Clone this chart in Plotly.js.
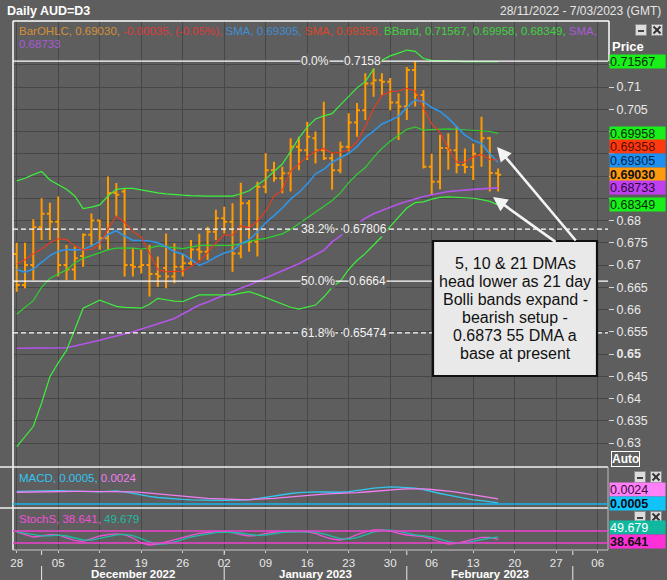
<!DOCTYPE html>
<html><head><meta charset="utf-8">
<script src="https://cdn.plot.ly/plotly-3.0.1.min.js"></script>
<style>html,body{margin:0;padding:0;background:#5e5e5e;}</style>
</head><body>
<div id="chart" style="width:667px;height:580px"></div>
<script>
// ---------------- DATA ----------------
const dates = [
'2022-11-28','2022-11-29','2022-11-30','2022-12-01','2022-12-02',
'2022-12-05','2022-12-06','2022-12-07','2022-12-08','2022-12-09',
'2022-12-12','2022-12-13','2022-12-14','2022-12-15','2022-12-16',
'2022-12-19','2022-12-20','2022-12-21','2022-12-22','2022-12-23',
'2022-12-26','2022-12-27','2022-12-28','2022-12-29','2022-12-30',
'2023-01-02','2023-01-03','2023-01-04','2023-01-05','2023-01-06',
'2023-01-09','2023-01-10','2023-01-11','2023-01-12','2023-01-13',
'2023-01-16','2023-01-17','2023-01-18','2023-01-19','2023-01-20',
'2023-01-23','2023-01-24','2023-01-25','2023-01-26','2023-01-27',
'2023-01-30','2023-01-31','2023-02-01','2023-02-02','2023-02-03',
'2023-02-06','2023-02-07','2023-02-08','2023-02-09','2023-02-10',
'2023-02-13','2023-02-14','2023-02-15','2023-02-16'];
const open = [0.6725,0.6655,0.6700,0.6785,0.6815, 0.6797,0.6700,0.6690,0.6720,0.6768,
0.6800,0.6760,0.6862,0.6865,0.6700, 0.6696,0.6700,0.6680,0.6693,0.6674,
0.6696,0.6704,0.6735,0.6730,0.6775, 0.6805,0.6797,0.6726,0.6839,0.6752,
0.6876,0.6913,0.6895,0.6906,0.6966, 0.6958,0.6985,0.6958,0.6940,0.6913,
0.6966,0.7020,0.7048,0.7108,0.7115, 0.7112,0.7065,0.7056,0.7138,0.7082,
0.6921,0.6887,0.6963,0.6958,0.6925, 0.6920,0.6947,0.6985,0.6906];
const high = [0.6750,0.6750,0.6803,0.6850,0.6840, 0.6854,0.6745,0.6741,0.6771,0.6816,
0.6801,0.6899,0.6884,0.6872,0.6738, 0.6734,0.6745,0.6719,0.6771,0.6749,
0.6725,0.6756,0.6770,0.6786,0.6824, 0.6831,0.6839,0.6885,0.6846,0.6887,
0.6951,0.6932,0.6921,0.6985,0.6988, 0.7022,0.7000,0.7067,0.6951,0.6977,
0.7041,0.7064,0.7131,0.7146,0.7131, 0.7120,0.7086,0.7145,0.7158,0.7093,
0.6950,0.6992,0.6996,0.7011,0.6962, 0.6973,0.7033,0.6988,0.6917];
const low = [0.6640,0.6648,0.6666,0.6756,0.6756, 0.6674,0.6666,0.6666,0.6696,0.6741,
0.6734,0.6734,0.6809,0.6674,0.6674, 0.6681,0.6629,0.6651,0.6648,0.6659,
0.6674,0.6700,0.6711,0.6711,0.6756, 0.6771,0.6685,0.6715,0.6730,0.6719,
0.6861,0.6887,0.6861,0.6865,0.6913, 0.6936,0.6928,0.6936,0.6869,0.6906,
0.6955,0.6988,0.7026,0.7078,0.7082, 0.7048,0.6981,0.7026,0.7056,0.6917,
0.6857,0.6870,0.6914,0.6906,0.6906, 0.6891,0.6921,0.6865,0.6865];
const close = [0.6655,0.6700,0.6785,0.6815,0.6797, 0.6700,0.6690,0.6715,0.6768,0.6800,
0.6760,0.6862,0.6858,0.6700,0.6696, 0.6700,0.6680,0.6675,0.6674,0.6696,
0.6704,0.6735,0.6730,0.6775,0.6805, 0.6797,0.6726,0.6839,0.6752,0.6876,
0.6913,0.6895,0.6906,0.6966,0.6958, 0.6988,0.6958,0.6940,0.6913,0.6966,
0.7020,0.7048,0.7108,0.7115,0.7112, 0.7065,0.7056,0.7138,0.7082,0.6921,
0.6887,0.6963,0.6958,0.6925,0.6920, 0.6950,0.6985,0.69065,0.6903];
const sma5 = [0.6702,0.6712,0.6725,0.6736,0.6750,0.6759,0.6757,0.6743,0.6734,0.6735,
0.6747,0.6781,0.6810,0.6796,0.6775,0.6763,0.6727,0.6690,0.6685,0.6685,
0.6686,0.6697,0.6708,0.6728,0.6750,0.6768,0.6767,0.6788,0.6784,0.6798,
0.6821,0.6855,0.6868,0.6911,0.6928,0.6943,0.6955,0.6962,0.6951,0.6953,
0.6959,0.6977,0.7011,0.7051,0.7081,0.7090,0.7091,0.7097,0.7091,0.7052,
0.7017,0.6998,0.6962,0.6931,0.6931,0.6943,0.6948,0.6937,0.69358];
const sma10 = [0.6690,0.6684,0.6691,0.6706,0.6721,0.6731,0.6735,0.6734,0.6735,0.6743,
0.6753,0.6769,0.6777,0.6765,0.6755,0.6755,0.6754,0.6750,0.6741,0.6730,
0.6725,0.6712,0.6699,0.6707,0.6718,0.6727,0.6732,0.6748,0.6756,0.6774,
0.6795,0.6811,0.6828,0.6848,0.6863,0.6882,0.6905,0.6915,0.6931,0.6941,
0.6951,0.6966,0.6987,0.7001,0.7017,0.7025,0.7034,0.7054,0.7071,0.7067,
0.7054,0.7045,0.7030,0.7011,0.6992,0.6980,0.6973,0.6950,0.69305];
const bbUpper = [0.6889,0.6895,0.6903,0.6910,0.6891,0.6880,0.6870,0.6855,0.6827,0.6830,
0.6835,0.6855,0.6870,0.6872,0.6872,0.6869,0.6865,0.6862,0.6860,0.6858,
0.6857,0.6856,0.6855,0.6855,0.6855,0.6855,0.6855,0.6860,0.6867,0.6880,
0.6893,0.6910,0.6927,0.6955,0.6985,0.7010,0.7028,0.7035,0.7040,0.7060,
0.7080,0.7098,0.7112,0.7140,0.7160,0.7170,0.7176,0.7183,0.7180,0.7164,
0.7160,0.7159,0.7159,0.7158,0.7157,0.7157,0.7157,0.7158,0.71567];
const bbMid = [0.6590,0.6605,0.6620,0.6650,0.6670,0.6680,0.6689,0.6705,0.6715,0.6721,
0.6728,0.6734,0.6738,0.6738,0.6738,0.6736,0.6738,0.6743,0.6741,0.6738,
0.6737,0.6740,0.6744,0.6744,0.6744,0.6744,0.6744,0.6748,0.6753,0.6757,
0.6760,0.6765,0.6770,0.6780,0.6793,0.6807,0.6819,0.6831,0.6845,0.6862,
0.6885,0.6904,0.6919,0.6942,0.6962,0.6978,0.6992,0.7005,0.7010,0.7003,
0.7004,0.7005,0.7006,0.7005,0.7004,0.7003,0.7002,0.7000,0.69958];
const bbLower = [0.6292,0.6315,0.6337,0.6390,0.6449,0.6480,0.6508,0.6555,0.6603,0.6612,
0.6621,0.6614,0.6607,0.6605,0.6604,0.6603,0.6612,0.6625,0.6622,0.6619,
0.6618,0.6625,0.6633,0.6633,0.6633,0.6633,0.6633,0.6637,0.6640,0.6634,
0.6627,0.6620,0.6612,0.6605,0.6601,0.6605,0.6610,0.6628,0.6650,0.6664,
0.6690,0.6710,0.6726,0.6745,0.6764,0.6787,0.6808,0.6828,0.6840,0.6842,
0.6848,0.6852,0.6853,0.6852,0.6851,0.6850,0.6847,0.6843,0.68349];
const sma55 = [0.6513,0.6513,0.6513,0.6513,0.6513,0.6513,0.6514,0.6518,0.6522,0.6527,
0.6531,0.6536,0.6540,0.6545,0.6550,0.6556,0.6561,0.6567,0.6573,0.6580,
0.6590,0.6600,0.6610,0.6617,0.6625,0.6632,0.6640,0.6648,0.6655,0.6663,
0.6670,0.6678,0.6686,0.6694,0.6703,0.6713,0.6723,0.6733,0.6752,0.6765,
0.6778,0.6792,0.6805,0.6815,0.6823,0.6830,0.6837,0.6843,0.6849,0.6854,
0.6858,0.6862,0.6865,0.6867,0.6869,0.6870,0.6871,0.6872,0.68733];
const macd = [0.0060,0.0061,0.0062,0.0064,0.0065,0.0064,0.0062,0.0060,0.0059,0.0059,
0.0058,0.0060,0.0062,0.0058,0.0050,0.0043,0.0036,0.0031,0.0027,0.0024,
0.0022,0.0020,0.0018,0.0017,0.0017,0.0017,0.0016,0.0018,0.0020,0.0026,
0.0034,0.0040,0.0044,0.0050,0.0054,0.0057,0.0058,0.0057,0.0055,0.0056,
0.0059,0.0063,0.0070,0.0076,0.0080,0.0081,0.0080,0.0079,0.0076,0.0068,
0.0058,0.0050,0.0042,0.0034,0.0027,0.0020,0.0016,0.0010,0.0005];
const macdSignal = [0.0056,0.0057,0.0058,0.0058,0.0059,0.0060,0.0060,0.0060,0.0060,0.0060,
0.0059,0.0059,0.0060,0.0059,0.0058,0.0055,0.0051,0.0047,0.0043,0.0039,
0.0036,0.0033,0.0030,0.0027,0.0025,0.0024,0.0022,0.0021,0.0021,0.0022,
0.0024,0.0027,0.0030,0.0034,0.0038,0.0042,0.0045,0.0047,0.0049,0.0050,
0.0052,0.0054,0.0057,0.0061,0.0065,0.0068,0.0070,0.0072,0.0073,0.0072,
0.0069,0.0066,0.0061,0.0056,0.0050,0.0045,0.0039,0.0032,0.0024];
const stochK = [76,62,50,55,62,60,45,32,28,40,55,62,66,62,45,20,10,14,25,38,
50,58,68,72,76,76,72,62,55,58,68,74,76,76,78,76,68,52,40,35,
45,62,76,86,86,80,68,60,56,52,40,25,15,18,28,38,48,48,38.641];
const stochD = [76,70,62,56,56,59,55,45,35,34,42,52,61,63,57,42,25,15,16,25,
38,50,58,66,72,75,74,70,63,58,60,67,73,75,77,77,74,66,53,42,
40,47,61,75,83,84,78,69,61,56,50,39,27,19,20,28,38,45,49.679];
const stochLevels = [80, 20];
const fibPct = ['0.0%','38.2%','50.0%','61.8%'];
const fibVal = [0.7158, 0.67806, 0.6664, 0.65474];
const fibText = ['0.7158','0.67806','0.6664','0.65474'];
const tickDates = ['2022-11-28','2022-12-05','2022-12-12','2022-12-19','2022-12-26','2023-01-02',
'2023-01-09','2023-01-16','2023-01-23','2023-01-30','2023-02-06','2023-02-13','2023-02-20','2023-02-27','2023-03-06'];
const tickLabels = ['28','05','12','19','26','02','09','16','23','30','06','13','20','27','06'];
const monthStarts = ['2022-12-01','2023-01-02','2023-02-01','2023-03-01'];
const monthLabels = ['December 2022','January 2023','February 2023'];
const yTickVals = [0.63,0.635,0.64,0.645,0.65,0.655,0.66,0.665,0.67,0.675,0.68,0.685,0.69,0.695,0.70,0.705,0.71,0.715];
// labels at 0.685-0.70 and 0.715 sit under the value boxes in the reference, so they stay blank
const yTickText = ['0.63','0.635','0.64','0.645','<b>0.65</b>','0.655','0.66','0.665','0.67','0.675','0.68','','','','','0.705','0.71',''];
const noteLines = ['5, 10 & 21 DMAs','head lower as 21 day','Bolli bands expand -','bearish setup -','0.6873 55 DMA a','base at present'];

// ---------------- HELPERS ----------------
function tdIndex(s){
  const d0 = Date.UTC(2022,10,28);
  const d = Date.parse(s + 'T00:00:00Z');
  const days = Math.round((d - d0)/864e5);
  const w = Math.floor(days/7), r = days - w*7;
  return w*5 + Math.min(r,5);
}
const xi = dates.map(tdIndex);
const L=13, R=608, T=21, B=550;
const PX = p => (p-L)/(R-L);
const PY = p => (B-p)/(B-T);
const mainBot = PY(467), macdBot = PY(508);
const FONT = 'Liberation Sans, Arial, sans-serif';
const last = close.length-1;
const f5 = v => v.toFixed(5);

// ---------------- TRACES ----------------
const traces = [
  {type:'ohlc', x:xi, open:open, high:high, low:low, close:close, xaxis:'x', yaxis:'y',
   increasing:{line:{color:'#ff9a00', width:2}}, decreasing:{line:{color:'#ff9a00', width:2}},
   tickwidth:0.36, hoverinfo:'skip'},
  {type:'scatter', mode:'lines', x:xi, y:sma55, line:{color:'#b455ea', width:1.6}, yaxis:'y'},
  {type:'scatter', mode:'lines', x:xi, y:bbUpper, line:{color:'#3cf03c', width:1.2}, yaxis:'y'},
  {type:'scatter', mode:'lines', x:xi, y:bbMid, line:{color:'#2fd02f', width:1.2}, yaxis:'y'},
  {type:'scatter', mode:'lines', x:xi, y:bbLower, line:{color:'#3cf03c', width:1.2}, yaxis:'y'},
  {type:'scatter', mode:'lines', x:xi, y:sma10, line:{color:'#2f95e8', width:1.6}, yaxis:'y'},
  {type:'scatter', mode:'lines', x:xi, y:sma5, line:{color:'#f03a1a', width:1.1}, yaxis:'y'},
  {type:'scatter', mode:'lines', x:xi, y:macd, line:{color:'#35c4f0', width:1.3}, yaxis:'y2'},
  {type:'scatter', mode:'lines', x:xi, y:macdSignal, line:{color:'#f07ef0', width:1.3}, yaxis:'y2'},
  {type:'scatter', mode:'lines', x:xi, y:stochK, line:{color:'#f050d8', width:1.3}, yaxis:'y3'},
  {type:'scatter', mode:'lines', x:xi, y:stochD, line:{color:'#20bba5', width:1.3}, yaxis:'y3'}
];

// ---------------- SHAPES ----------------
const shapes = [];
shapes.push({type:'line', xref:'paper', yref:'paper', x0:0, x1:PX(609), y0:1, y1:1, line:{color:'#ffffff', width:1.5}});
shapes.push({type:'line', xref:'paper', yref:'paper', x0:0, x1:0, y0:0, y1:1, line:{color:'#ffffff', width:1.5}});
shapes.push({type:'line', xref:'paper', yref:'y', x0:PX(609), x1:PX(609), y0:fibVal[0], y1:0.72483, line:{color:'#ffffff', width:1.5}});
shapes.push({type:'line', xref:'paper', yref:'paper', x0:PX(0), x1:1, y0:mainBot, y1:mainBot, line:{color:'#f0f0f0', width:1.5}});
shapes.push({type:'line', xref:'paper', yref:'paper', x0:PX(0), x1:1, y0:macdBot, y1:macdBot, line:{color:'#f0f0f0', width:1.5}});
shapes.push({type:'line', xref:'paper', yref:'paper', x0:0, x1:1, y0:0, y1:0, line:{color:'#c8c8c8', width:1}});
shapes.push({type:'line', xref:'paper', yref:'paper', x0:1, x1:1, y0:0, y1:mainBot, line:{color:'#bdbdbd', width:1}});
fibVal.forEach((v,i)=>{
  shapes.push({type:'line', layer:'above', xref:'paper', yref:'y', x0:0, x1:1, y0:v, y1:v,
    line:{color:'#ffffff', width:1.3, dash: (i%2===1) ? '5px,3px' : 'solid'}});
});
shapes.push({type:'line', xref:'paper', yref:'y2', x0:0, x1:1, y0:0, y1:0, line:{color:'#10b8f0', width:1.5}});
stochLevels.forEach(v=>shapes.push({type:'line', xref:'paper', yref:'y3', x0:0, x1:1, y0:v, y1:v, line:{color:'#f040d0', width:1.5}}));
monthStarts.forEach(d=>{
  const xv = tdIndex(d);
  shapes.push({type:'line', xref:'x', yref:'paper', x0:xv, x1:xv, y0:PY(566), y1:PY(581), line:{color:'#e8e8e8', width:1}});
  shapes.push({type:'line', xref:'x', yref:'paper', x0:xv, x1:xv, y0:PY(551), y1:PY(555), line:{color:'#e8e8e8', width:1}});
});
shapes.push({type:'rect', layer:'above', xref:'paper', yref:'paper', x0:PX(433), x1:PX(597), y0:PY(376), y1:PY(241),
  fillcolor:'#e9e9e9', line:{color:'#111111', width:2.2}});
function icons(cx, cy){
  const s=5.5;
  shapes.push({type:'rect', xref:'paper', yref:'paper', x0:PX(cx-s), x1:PX(cx+s), y0:PY(cy+s), y1:PY(cy-s), fillcolor:'#dcdcdc', line:{color:'#8a8a8a', width:1}});
  shapes.push({type:'line', xref:'paper', yref:'paper', x0:PX(cx-3), x1:PX(cx+3), y0:PY(cy+1), y1:PY(cy+1), line:{color:'#444', width:2}});
  const c = cx+16;
  shapes.push({type:'rect', xref:'paper', yref:'paper', x0:PX(c-s), x1:PX(c+s), y0:PY(cy+s), y1:PY(cy-s), fillcolor:'#dcdcdc', line:{color:'#8a8a8a', width:1}});
  shapes.push({type:'line', xref:'paper', yref:'paper', x0:PX(c-3.5), x1:PX(c+3.5), y0:PY(cy-3.5), y1:PY(cy+3.5), line:{color:'#333', width:2}});
  shapes.push({type:'line', xref:'paper', yref:'paper', x0:PX(c-3.5), x1:PX(c+3.5), y0:PY(cy+3.5), y1:PY(cy-3.5), line:{color:'#333', width:2}});
}
icons(641,30); icons(640,477); icons(640,517);

// ---------------- ANNOTATIONS ----------------
const ann = [];
ann.push({xref:'paper', yref:'paper', x:PX(5), y:PY(11), xanchor:'left', yanchor:'middle', showarrow:false,
  text:'<b>Daily AUD=D3</b>', font:{family:FONT, size:12.5, color:'#ffffff'}});
ann.push({xref:'paper', yref:'paper', x:PX(663), y:PY(11), xanchor:'right', yanchor:'middle', showarrow:false,
  text:'28/11/2022 - 7/03/2023 (GMT)', font:{family:FONT, size:12, color:'#e6e6e6'}});
const chg = close[last]-close[last-1];
const pct = chg/close[last-1]*100;
const leg1 = '<span style="color:#e59a35">BarOHLC, '+f5(close[last])+', </span>'+
  '<span style="color:#f03535">'+chg.toFixed(5)+', ('+pct.toFixed(2)+'%), </span>'+
  '<span style="color:#3b97e6">SMA, '+f5(sma10[last])+', </span>'+
  '<span style="color:#ee4422">SMA, '+f5(sma5[last])+', </span>'+
  '<span style="color:#3ce43c">BBand, '+f5(bbUpper[last])+', '+f5(bbMid[last])+', '+f5(bbLower[last])+', </span>'+
  '<span style="color:#b75ae8">SMA,</span>';
ann.push({xref:'paper', yref:'paper', x:PX(17), y:PY(31), xanchor:'left', yanchor:'middle', showarrow:false,
  text:leg1, font:{family:FONT, size:11.5, color:'#ffffff'}, opacity:0.85});
ann.push({xref:'paper', yref:'paper', x:PX(17), y:PY(44), xanchor:'left', yanchor:'middle', showarrow:false,
  text:'<span style="color:#b75ae8">'+f5(sma55[last])+'</span>', font:{family:FONT, size:11.5, color:'#ffffff'}, opacity:0.85});
ann.push({xref:'paper', yref:'paper', x:PX(17), y:PY(478), xanchor:'left', yanchor:'middle', showarrow:false,
  text:'<span style="color:#35c4f0">MACD, '+macd[last].toFixed(4)+', </span><span style="color:#f07ef0">'+macdSignal[last].toFixed(4)+'</span>',
  font:{family:FONT, size:11.5, color:'#ffffff'}});
ann.push({xref:'paper', yref:'paper', x:PX(17), y:PY(519), xanchor:'left', yanchor:'middle', showarrow:false,
  text:'<span style="color:#f050d8">StochS, '+stochK[last].toFixed(3)+', </span><span style="color:#20bba5">'+stochD[last].toFixed(3)+'</span>',
  font:{family:FONT, size:11.5, color:'#ffffff'}});
ann.push({xref:'paper', yref:'paper', x:PX(628), y:PY(46), xanchor:'center', yanchor:'middle', showarrow:false,
  text:'<b>Price</b>', font:{family:FONT, size:13, color:'#ffffff'}});
ann.push({xref:'paper', yref:'paper', x:PX(626), y:PY(459), xanchor:'center', yanchor:'middle', showarrow:false,
  text:'<b>Auto</b>', font:{family:FONT, size:12, color:'#ffffff'}, bordercolor:'#ffffff', borderwidth:1, borderpad:0, bgcolor:'#5e5e5e'});
const fibPctX = [300,300,300,300], fibValX = [343,342,348,342];
fibVal.forEach((v,i)=>{
  ann.push({xref:'paper', yref:'y', x:PX(fibPctX[i]), y:v, xanchor:'left', yanchor:'middle', showarrow:false,
    text:fibPct[i], font:{family:FONT, size:12, color:'#f2f2f2'}, bgcolor:'#5e5e5e', borderpad:0});
  ann.push({xref:'paper', yref:'y', x:PX(fibValX[i]), y:v, xanchor:'left', yanchor:'middle', showarrow:false,
    text:fibText[i], font:{family:FONT, size:12, color:'#f2f2f2'}, bgcolor:'#5e5e5e', borderpad:0});
});
function vbox(yref, y, txt, bg, fc, bold, shift){
  ann.push({xref:'paper', yref:yref, x:PX(609), y:y, yshift:shift||0, xanchor:'left', yanchor:'middle', showarrow:false,
    text: bold ? '<b>'+txt+'</b>' : txt, font:{family:FONT, size:12.5, color:fc}, bgcolor:bg,
    width:55, height:13, align:'left', borderpad:0});
}
vbox('y', bbUpper[last], f5(bbUpper[last]), '#19f019', '#0a2a0a', false, 0);
vbox('y', bbMid[last], f5(bbMid[last]), '#19f019', '#0a2a0a', false, 0);
vbox('y', sma5[last], f5(sma5[last]), '#ff3a10', '#5a0d00', false, 13.5);
vbox('y', sma10[last], f5(sma10[last]), '#1e90f0', '#07264a', false, 1.5);
vbox('y', close[last], f5(close[last]), '#ff9a10', '#111111', true, 0);
vbox('y', sma55[last], f5(sma55[last]), '#c040f0', '#2a0a3a', false, 0);
vbox('y', bbLower[last], f5(bbLower[last]), '#19f019', '#0a2a0a', false, 0);
vbox('paper', PY(489), macdSignal[last].toFixed(4), '#ff80f8', '#3a0a3a', false, 0);
vbox('paper', PY(503), macd[last].toFixed(4), '#10c4f8', '#0a0a1a', true, 0);
vbox('paper', PY(527), stochD[last].toFixed(3), '#10b8a0', '#ffffff', false, 0);
vbox('paper', PY(541), stochK[last].toFixed(3), '#ff30d8', '#111111', true, 0);
noteLines.forEach((t,i)=>{
  ann.push({xref:'paper', yref:'paper', x:PX(515), y:PY(263.5+17.9*i), xanchor:'center', yanchor:'middle', showarrow:false,
    text:t, font:{family:FONT, size:16, color:'#111111'}});
});
ann.push({xref:'paper', yref:'paper', x:PX(497), y:PY(147), ax:80, ay:95, text:'', showarrow:true,
  arrowhead:2, arrowsize:1.1, arrowwidth:2.6, arrowcolor:'#f4f4f4'});
ann.push({xref:'paper', yref:'paper', x:PX(493), y:PY(197), ax:64, ay:46, text:'', showarrow:true,
  arrowhead:2, arrowsize:1.1, arrowwidth:2.6, arrowcolor:'#f4f4f4'});
for(let i=0;i<monthLabels.length;i++){
  const xm = (tdIndex(monthStarts[i]) + tdIndex(monthStarts[i+1]))/2;
  ann.push({xref:'x', yref:'paper', x:xm, y:PY(574), xanchor:'center', yanchor:'middle', showarrow:false,
    text:'<b>'+monthLabels[i]+'</b>', font:{family:FONT, size:11.5, color:'#ffffff'}, borderpad:0});
}

// ---------------- LAYOUT ----------------
const layout = {
  width:667, height:580,
  margin:{l:L, r:667-R, t:T, b:580-B, pad:0},
  paper_bgcolor:'#5e5e5e', plot_bgcolor:'#5e5e5e',
  showlegend:false,
  font:{family:FONT, color:'#e8e8e8'},
  xaxis:{domain:[0,1], anchor:'y3', range:[-0.446, 71.24], type:'linear',
    tickvals:tickDates.map(tdIndex), ticktext:tickLabels,
    ticks:'outside', ticklen:2, tickcolor:'#d0d0d0', tickfont:{family:FONT, size:11.5, color:'#e8e8e8'},
    showgrid:true, gridcolor:'#474747', gridwidth:1, zeroline:false, showline:false,
    rangeslider:{visible:false}, fixedrange:true},
  yaxis:{domain:[mainBot,1], anchor:'x', side:'right', range:[0.62461, 0.72483],
    tickvals:yTickVals, ticktext:yTickText, ticks:'outside', ticklen:5, tickcolor:'#d8d8d8',
    tickfont:{family:FONT, size:12.5, color:'#e8e8e8'},
    showgrid:true, gridcolor:'#474747', gridwidth:1, zeroline:false, showline:false},
  yaxis2:{domain:[macdBot, mainBot], anchor:'x', range:[-0.0019, 0.0176], showticklabels:false, ticks:'',
    showgrid:false, zeroline:false, showline:false},
  yaxis3:{domain:[0, macdBot], anchor:'x', range:[-15, 195], showticklabels:false, ticks:'',
    showgrid:false, zeroline:false, showline:false},
  shapes:shapes,
  annotations:ann
};
Plotly.newPlot('chart', traces, layout, {staticPlot:true, displayModeBar:false});
</script>
</body></html>
